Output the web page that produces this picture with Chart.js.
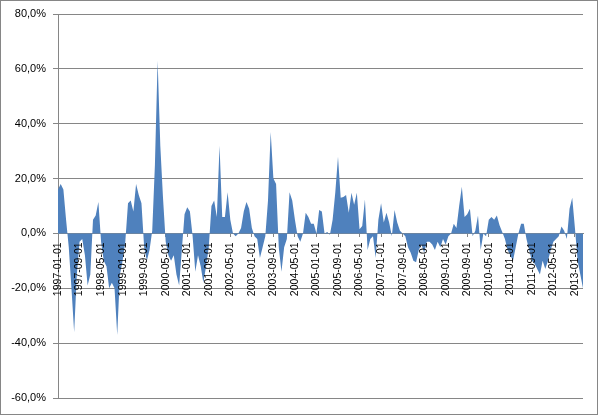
<!DOCTYPE html>
<html>
<head>
<meta charset="utf-8">
<script src="https://cdn.jsdelivr.net/npm/chart.js@4"></script>
<style>
  html, body { margin: 0; padding: 0; background: #fff; }
  #wrap { width: 598px; height: 415px; }
</style>
</head>
<body>
<div id="wrap"><canvas id="AreaChart" width="598" height="415"></canvas></div>
<script>
// monthly change in %, 1997-01 .. 2013-04
const changePct = [
  16, 18, 16, 5, -5, -20, -36, -15, -3, -2, -8, -19,
  -15, 5, 6.5, 11.5, -3, -10, -12, -20, -18, -20, -37, -15,
  -10, -3, 11, 12, 8, 18, 14, 11, -5, -10, -6, 1,
  25, 63, 32, 13, -3, -8, -10, -8, -15, -19, -6, 7,
  9.5, 8, -1, -14, -8, -12, -18, -12, -5, 10, 12, 6,
  32, 6, 6, 15, 5, 0, -1, 0, 2, 8, 11.5, 9,
  2, -1, -2, -9, -5, -1, 12, 37, 20, 18, -5, -14,
  -5, -2, 15, 12, 5, -1, -3, 0, 7.5, 6, 3.5, 3.5,
  0, 8.5, 8, 0, 0.5, -0.5, 5, 15, 28, 13, 13.3, 14,
  7.5, 14.8, 10.5, 14.8, 1.5, 2.7, 12.4, -6, -2, -1, -9, 5,
  11, 4, 7.5, 4, -1, 8.5, 4, 1, 0, -1, -5, -7,
  -10, -10.5, -6, -4, -7, -3, -3, -4, -6, -3, -5, -2,
  -4, -1, 0, 3.5, 2, 10, 17, 6, 7, 9, -1, 1,
  6.5, -6, 0, -1, 5, 6, 5, 6.5, 3, 0.5, -2, -6,
  -8, -10, -5, 0, 3.5, 3.5, -2, -6, -10, -11, -13, -15,
  -10, -13, -10, -6, -3, -2, -1, 2.5, 1, -2, 9, 13,
  2, -10, -15, -20
];

const startYear = 1997;
const labelEvery = 8;
const yMin = -60;
const yMax = 80;
const yStep = 20;

const months = [];
for (let i = 0; i < changePct.length; i++) {
  const y = startYear + Math.floor(i / 12);
  const m = (i % 12) + 1;
  months.push(y + "-" + (m < 10 ? "0" + m : m) + "-01");
}

const frame = {
  id: "frame",
  beforeDraw(chart) {
    const c = chart.ctx;
    c.save();
    c.fillStyle = "#fff";
    c.fillRect(0, 0, chart.width, chart.height);
    c.strokeStyle = "#868686";
    c.lineWidth = 1;
    c.strokeRect(0.5, 0.5, chart.width - 1, chart.height - 1);
    c.restore();
  },
};

const ctx = document.getElementById("AreaChart").getContext("2d");

new Chart(ctx, {
  type: "line",
  data: {
    labels: months,
    datasets: [
      {
        data: changePct,
        backgroundColor: "#4F81BD",
        borderColor: "#4F81BD",
        borderWidth: 0,
        pointRadius: 0,
        fill: "origin",
        tension: 0,
      },
    ],
  },
  options: {
    responsive: false,
    animation: false,
    layout: { padding: { left: 0, right: 15, top: 14, bottom: 17 } },
    plugins: { legend: { display: false }, tooltip: { enabled: false } },
    scales: {
      x: {
        position: { y: 0 },
        offset: false,
        afterBuildTicks: function (scale) {
          scale.ticks = scale.ticks.filter((t, i) => i % labelEvery === 0);
        },
        grid: { drawOnChartArea: false, drawTicks: true, tickLength: 3, color: "#868686" },
        border: { display: true, color: "#868686" },
        ticks: {
          z: 1, // labels sit on top of the area, like the original
          autoSkip: false,
          maxRotation: 90,
          minRotation: 90,
          padding: 6,
          color: "#000",
          font: { family: "Liberation Sans", size: 10.5 },
        },
      },
      y: {
        min: yMin,
        max: yMax,
        afterFit: function (scale) {
          scale.width = 58;
        },
        grid: { color: "#868686", tickLength: 5 },
        border: { display: true, color: "#868686" },
        ticks: {
          stepSize: yStep,
          padding: 7,
          color: "#000",
          font: { family: "Liberation Sans", size: 11 },
          callback: (v) => v.toFixed(1).replace(".", ",") + "%",
        },
      },
    },
  },
  plugins: [frame],
});
</script>
</body>
</html>
